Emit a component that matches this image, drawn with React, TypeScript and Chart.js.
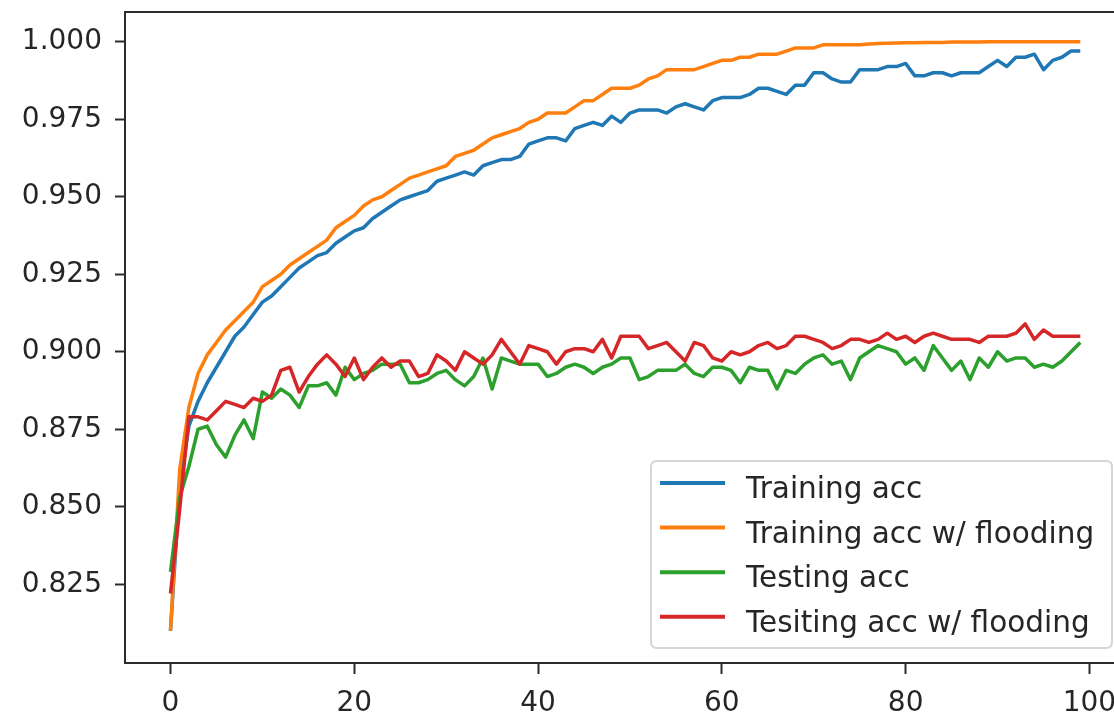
import React, { useEffect, useRef } from 'react';
import { Chart, registerables } from 'chart.js';

Chart.register(...registerables);

const epochs: number[] = Array.from({ length: 100 }, (_, i) => i);

const trainingAcc: number[] = [
  0.810, 0.856, 0.876, 0.884, 0.890, 0.895, 0.900, 0.905, 0.908, 0.912,
  0.916, 0.918, 0.921, 0.924, 0.927, 0.929, 0.931, 0.932, 0.935, 0.937,
  0.939, 0.940, 0.943, 0.945, 0.947, 0.949, 0.950, 0.951, 0.952, 0.955,
  0.956, 0.957, 0.958, 0.957, 0.960, 0.961, 0.962, 0.962, 0.963, 0.967,
  0.968, 0.969, 0.969, 0.968, 0.972, 0.973, 0.974, 0.973, 0.976, 0.974,
  0.977, 0.978, 0.978, 0.978, 0.977, 0.979, 0.980, 0.979, 0.978, 0.981,
  0.982, 0.982, 0.982, 0.983, 0.985, 0.985, 0.984, 0.983, 0.986, 0.986,
  0.990, 0.990, 0.988, 0.987, 0.987, 0.991, 0.991, 0.991, 0.992, 0.992,
  0.993, 0.989, 0.989, 0.990, 0.990, 0.989, 0.990, 0.990, 0.990, 0.992,
  0.994, 0.992, 0.995, 0.995, 0.996, 0.991, 0.994, 0.995, 0.997, 0.997,
];

const trainingAccFlood: number[] = [
  0.810, 0.862, 0.882, 0.893, 0.899, 0.903, 0.907, 0.910, 0.913, 0.916,
  0.921, 0.923, 0.925, 0.928, 0.930, 0.932, 0.934, 0.936, 0.940, 0.942,
  0.944, 0.947, 0.949, 0.950, 0.952, 0.954, 0.956, 0.957, 0.958, 0.959,
  0.960, 0.963, 0.964, 0.965, 0.967, 0.969, 0.970, 0.971, 0.972, 0.974,
  0.975, 0.977, 0.977, 0.977, 0.979, 0.981, 0.981, 0.983, 0.985, 0.985,
  0.985, 0.986, 0.988, 0.989, 0.991, 0.991, 0.991, 0.991, 0.992, 0.993,
  0.994, 0.994, 0.995, 0.995, 0.996, 0.996, 0.996, 0.997, 0.998, 0.998,
  0.998, 0.999, 0.999, 0.999, 0.999, 0.999, 0.9993, 0.9994, 0.9995, 0.9996,
  0.9997, 0.9997, 0.9998, 0.9998, 0.9998, 0.9999, 0.9999, 0.9999, 0.9999, 1.000,
  1.000, 1.000, 1.000, 1.000, 1.000, 1.000, 1.000, 1.000, 1.000, 1.000,
];

const testingAcc: number[] = [
  0.829, 0.853, 0.863, 0.875, 0.876, 0.870, 0.866, 0.873, 0.878, 0.872,
  0.887, 0.885, 0.888, 0.886, 0.882, 0.889, 0.889, 0.890, 0.886, 0.895,
  0.891, 0.893, 0.894, 0.896, 0.896, 0.896, 0.890, 0.890, 0.891, 0.893,
  0.894, 0.891, 0.889, 0.892, 0.898, 0.888, 0.898, 0.897, 0.896, 0.896,
  0.896, 0.892, 0.893, 0.895, 0.896, 0.895, 0.893, 0.895, 0.896, 0.898,
  0.898, 0.891, 0.892, 0.894, 0.894, 0.894, 0.896, 0.893, 0.892, 0.895,
  0.895, 0.894, 0.890, 0.895, 0.894, 0.894, 0.888, 0.894, 0.893, 0.896,
  0.898, 0.899, 0.896, 0.897, 0.891, 0.898, 0.900, 0.902, 0.901, 0.900,
  0.896, 0.898, 0.894, 0.902, 0.898, 0.894, 0.897, 0.891, 0.898, 0.895,
  0.900, 0.897, 0.898, 0.898, 0.895, 0.896, 0.895, 0.897, 0.900, 0.903,
];

const testingAccFlood: number[] = [
  0.822, 0.849, 0.879, 0.879, 0.878, 0.881, 0.884, 0.883, 0.882, 0.885,
  0.884, 0.886, 0.894, 0.895, 0.887, 0.892, 0.896, 0.899, 0.896, 0.892,
  0.898, 0.891, 0.895, 0.898, 0.895, 0.897, 0.897, 0.892, 0.893, 0.899,
  0.897, 0.894, 0.900, 0.898, 0.896, 0.899, 0.904, 0.900, 0.896, 0.902,
  0.901, 0.900, 0.896, 0.900, 0.901, 0.901, 0.900, 0.904, 0.898, 0.905,
  0.905, 0.905, 0.901, 0.902, 0.903, 0.900, 0.897, 0.903, 0.902, 0.898,
  0.897, 0.900, 0.899, 0.900, 0.902, 0.903, 0.901, 0.902, 0.905, 0.905,
  0.904, 0.903, 0.901, 0.902, 0.904, 0.904, 0.903, 0.904, 0.906, 0.904,
  0.905, 0.903, 0.905, 0.906, 0.905, 0.904, 0.904, 0.904, 0.903, 0.905,
  0.905, 0.905, 0.906, 0.909, 0.904, 0.907, 0.905, 0.905, 0.905, 0.905,
];

const seriesLabels: string[] = [
  'Training acc',
  'Training acc w/ flooding',
  'Testing acc',
  'Tesiting acc w/ flooding',
];
const seriesColors: string[] = ['#1f77b4', '#ff7f0e', '#2ca02c', '#d62728'];
const xTickValues: number[] = [0, 20, 40, 60, 80, 100];
const yTickValues: number[] = [0.825, 0.85, 0.875, 0.9, 0.925, 0.95, 0.975, 1.0];

const FONT = "'DejaVu Sans', sans-serif";
const SPINE = '#2b2b2b';
const TEXT = '#262626';

const spinesAndLegend = {
  id: 'spinesAndLegend',
  afterDraw(chart: any) {
    const { ctx, chartArea } = chart;
    const { left, top, bottom } = chartArea;
    const right = chart.width;
    ctx.save();
    ctx.strokeStyle = SPINE;
    ctx.lineWidth = 2;
    ctx.lineCap = 'square';
    ctx.beginPath();
    ctx.moveTo(left, top);
    ctx.lineTo(right, top);
    ctx.moveTo(left, top);
    ctx.lineTo(left, bottom);
    ctx.lineTo(right, bottom);
    ctx.stroke();

    // legend
    const lx = 651, ly = 461, lw = 461, lh = 187, r = 6;
    ctx.beginPath();
    ctx.moveTo(lx + r, ly);
    ctx.lineTo(lx + lw - r, ly);
    ctx.quadraticCurveTo(lx + lw, ly, lx + lw, ly + r);
    ctx.lineTo(lx + lw, ly + lh - r);
    ctx.quadraticCurveTo(lx + lw, ly + lh, lx + lw - r, ly + lh);
    ctx.lineTo(lx + r, ly + lh);
    ctx.quadraticCurveTo(lx, ly + lh, lx, ly + lh - r);
    ctx.lineTo(lx, ly + r);
    ctx.quadraticCurveTo(lx, ly, lx + r, ly);
    ctx.closePath();
    ctx.fillStyle = 'rgba(255,255,255,0.8)';
    ctx.fill();
    ctx.strokeStyle = '#d6d6d6';
    ctx.lineWidth = 2;
    ctx.stroke();

    ctx.font = `29.5px ${FONT}`;
    ctx.textAlign = 'left';
    ctx.textBaseline = 'alphabetic';
    chart.data.datasets.forEach((ds: any, k: number) => {
      const cy = 483 + k * 44.6;
      ctx.strokeStyle = ds.borderColor;
      ctx.lineWidth = 4;
      ctx.lineCap = 'butt';
      ctx.beginPath();
      ctx.moveTo(660, cy);
      ctx.lineTo(725, cy);
      ctx.stroke();
      ctx.fillStyle = TEXT;
      ctx.fillText(ds.label, 746, cy + 15);
    });
    ctx.restore();
  },
};

export default function App() {
  const ref = useRef<HTMLCanvasElement | null>(null);

  useEffect(() => {
    if (!ref.current) return;
    const series = [trainingAcc, trainingAccFlood, testingAcc, testingAccFlood];
    const chart = new Chart(ref.current, {
      type: 'line',
      data: {
        datasets: series.map((vals, k) => ({
          label: seriesLabels[k],
          data: epochs.map((x, i) => ({ x, y: vals[i] })),
          borderColor: seriesColors[k],
          backgroundColor: seriesColors[k],
          borderWidth: 3.5,
          pointRadius: 0,
          tension: 0,
          borderJoinStyle: 'round',
          fill: false,
          order: 4 - k,
        })),
      },
      options: {
        animation: false,
        responsive: false,
        maintainAspectRatio: false,
        layout: { padding: { top: 12, left: 0, right: 0, bottom: 0 } },
        plugins: {
          legend: { display: false },
          tooltip: { enabled: false },
        },
        scales: {
          x: {
            type: 'linear',
            min: -4.95,
            max: 102.67,
            afterBuildTicks: (s: any) => {
              s.ticks = xTickValues.map((v) => ({ value: v }));
            },
            afterFit: (s: any) => {
              s.height = 50;
              s.paddingLeft = 0;
              s.paddingRight = 0;
            },
            border: { display: false },
            grid: {
              display: true,
              drawOnChartArea: false,
              drawTicks: true,
              tickLength: 11,
              tickWidth: 2,
              tickColor: SPINE,
            },
            ticks: {
              font: { family: FONT, size: 28 },
              color: TEXT,
              padding: 13,
              maxRotation: 0,
              autoSkip: false,
              callback: (v: any) => String(v),
            },
          },
          y: {
            type: 'linear',
            min: 0.7996,
            max: 1.0096,
            afterBuildTicks: (s: any) => {
              s.ticks = yTickValues.map((v) => ({ value: v }));
            },
            afterFit: (s: any) => {
              s.width = 125;
              s.paddingTop = 0;
              s.paddingBottom = 0;
            },
            border: { display: false },
            grid: {
              display: true,
              drawOnChartArea: false,
              drawTicks: true,
              tickLength: 10,
              tickWidth: 2,
              tickColor: SPINE,
            },
            ticks: {
              font: { family: FONT, size: 28 },
              color: TEXT,
              padding: 13,
              autoSkip: false,
              callback: (v: any) => Number(v).toFixed(3),
            },
          },
        },
      },
      plugins: [spinesAndLegend],
    } as any);
    return () => chart.destroy();
  }, []);

  return (
    <div style={{ position: 'fixed', left: 0, top: 0, width: 1114, height: 713, background: '#fff' }}>
      <canvas ref={ref} width={1114} height={713} style={{ width: 1114, height: 713, display: 'block' }} />
    </div>
  );
}
